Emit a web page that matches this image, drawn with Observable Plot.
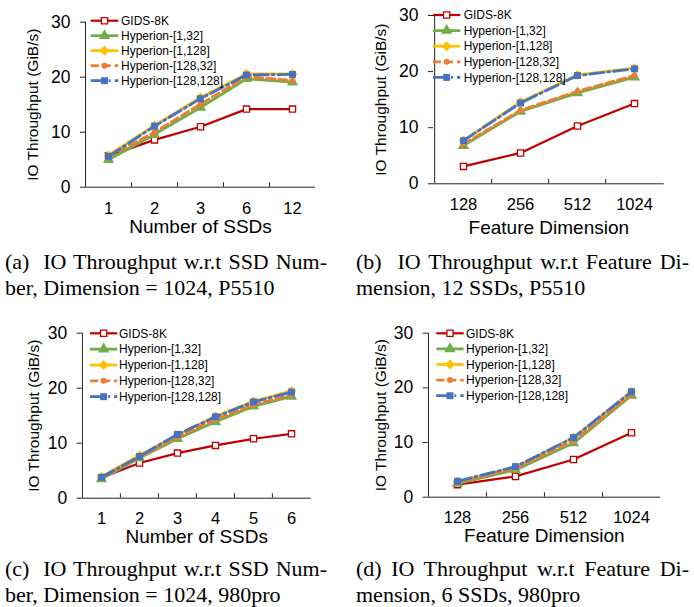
<!DOCTYPE html>
<html><head><meta charset="utf-8">
<script src="https://cdn.jsdelivr.net/npm/d3@7"></script>
<script src="https://cdn.jsdelivr.net/npm/@observablehq/plot@0.6"></script>
<style>
body{margin:0;background:#fff;}
#root{position:relative;width:694px;height:607px;overflow:hidden;background:#fff;}
.panel{position:absolute;}
.cap{position:absolute;font-family:"Liberation Serif","Times New Roman",serif;font-size:22px;line-height:25.5px;color:#000;white-space:nowrap;}
.cap .l1{text-align:justify;text-align-last:justify;}
</style></head>
<body><div id="root"></div>
<script>
// ---------- data ----------
const seriesNames = ["GIDS-8K","Hyperion-[1,32]","Hyperion-[1,128]","Hyperion-[128,32]","Hyperion-[128,128]"];
const ssdCountsP5510 = ["1","2","3","6","12"];
const featureDims = ["128","256","512","1024"];
const ssdCounts980 = ["1","2","3","4","5","6"];
const yTicks = [0,10,20,30];
const yTitle = "IO Throughput (GiB/s)";
const xTitleSSD = "Number of SSDs";
const xTitleDim = "Feature Dimension";

// (a) SSD number, dim 1024, P5510
const a_gids    = [5.7, 8.6, 11.0, 14.2, 14.2];
const a_h1_32   = [5.0, 9.6, 14.5, 19.7, 19.1];
const a_h1_128  = [5.8, 11.2, 16.3, 20.6, 20.6];
const a_h128_32 = [5.5, 10.0, 15.1, 20.1, 19.4];
const a_h128_128= [5.6, 11.1, 16.1, 20.4, 20.5];
// (b) feature dim, 12 SSDs, P5510
const b_gids    = [3.1, 5.5, 10.3, 14.3];
const b_h1_32   = [6.8, 12.9, 16.2, 19.0];
const b_h1_128  = [7.7, 14.6, 19.4, 20.6];
const b_h128_32 = [7.1, 13.1, 16.5, 19.3];
const b_h128_128= [7.7, 14.4, 19.3, 20.5];
// (c) SSD number, dim 1024, 980pro
const c_gids    = [3.7, 6.4, 8.2, 9.6, 10.8, 11.7];
const c_h1_32   = [3.5, 7.3, 10.8, 13.9, 16.7, 18.5];
const c_h1_128  = [3.9, 7.8, 11.5, 14.9, 17.6, 19.5];
const c_h128_32 = [3.7, 7.4, 11.1, 14.3, 17.0, 18.8];
const c_h128_128= [3.8, 7.6, 11.6, 14.8, 17.5, 19.3];
// (d) feature dim, 6 SSDs, 980pro
const d_gids    = [2.3, 3.8, 6.9, 11.8];
const d_h1_32   = [2.5, 5.0, 9.9, 18.6];
const d_h1_128  = [2.9, 5.5, 10.9, 19.3];
const d_h128_32 = [2.7, 5.3, 10.3, 18.8];
const d_h128_128= [2.9, 5.6, 10.9, 19.3];

const captions = [
  ["(a)\u00a0\u00a0IO Throughput w.r.t SSD Num-", "ber, Dimension = 1024, P5510"],
  ["(b)\u00a0\u00a0IO Throughput w.r.t Feature Di-", "mension, 12 SSDs, P5510"],
  ["(c)\u00a0\u00a0IO Throughput w.r.t SSD Num-", "ber, Dimension = 1024, 980pro"],
  ["(d) IO Throughput w.r.t Feature Di-", "mension, 6 SSDs, 980pro"]
];

// ---------- styles ----------
const styles = [
  {color:"#C00000", width:2.2, dash:null,       symbol:"square",   d3sym:d3.symbolSquare,   r:3.5, fill:"#fff",    stroke:"#C00000", sw:1.3},
  {color:"#70AD47", width:2.8, dash:null,       symbol:"triangle", d3sym:d3.symbolTriangle, r:4.2, fill:"#70AD47", stroke:"none",    sw:0},
  {color:"#FFC000", width:2.8, dash:null,       symbol:"diamond2", d3sym:d3.symbolDiamond2, r:4.5, fill:"#FFC000", stroke:"none",    sw:0},
  {color:"#ED7D31", width:2.8, dash:"8,4",      symbol:"circle",   d3sym:d3.symbolCircle,   r:3.0, fill:"#ED7D31", stroke:"none",    sw:0},
  {color:"#4472C4", width:2.8, dash:"14,4,2,4", symbol:"square",   d3sym:d3.symbolSquare,   r:3.9, fill:"#4472C4", stroke:"none",    sw:0}
];
const axisColor = "#222";
const sansFont = "'Liberation Sans', Arial, Helvetica, sans-serif";

const panels = [
  {left:0,   top:0,   w:347, h:240, ml:85,   mr:32,   mt:21.7, mb:53.3, cats:ssdCountsP5510, vals:[a_gids,a_h1_32,a_h1_128,a_h128_32,a_h128_128], xTitle:xTitleSSD, tickPad:15,   xTitleDy:39.5, yTitleDx:-52,
   leg:{x0:90.7, len:27.6, tx:121, y0:20.7, dy:15}},
  {left:347, top:0,   w:347, h:240, ml:86,   mr:30.3, mt:15,   mb:56.7, cats:featureDims,   vals:[b_gids,b_h1_32,b_h1_128,b_h128_32,b_h128_128], xTitle:xTitleDim, tickPad:14.3, xTitleDy:44,   yTitleDx:-52.7,
   leg:{x0:86, len:27.3, tx:116.7, y0:15, dy:15.6}},
  {left:0,   top:310, w:347, h:240, ml:81.7, mr:36.3, mt:22.7, mb:52.3, cats:ssdCounts980,  vals:[c_gids,c_h1_32,c_h1_128,c_h128_32,c_h128_128], xTitle:xTitleSSD, tickPad:14,   xTitleDy:38.5, yTitleDx:-48.4,
   leg:{x0:90, len:27.3, tx:119, y0:23.3, dy:15.85}},
  {left:347, top:310, w:347, h:240, ml:80.7, mr:34,   mt:22.7, mb:53.3, cats:featureDims,   vals:[d_gids,d_h1_32,d_h1_128,d_h128_32,d_h128_128], xTitle:xTitleDim, tickPad:14,   xTitleDy:38.5, yTitleDx:-47.4,
   leg:{x0:89.3, len:27.4, tx:119, y0:23.3, dy:15.6}}
];
const capPos = [
  {left:5,   top:249, w:322},
  {left:356, top:249, w:333},
  {left:5,   top:556, w:322},
  {left:356, top:556, w:333}
];

const root = document.getElementById("root");

panels.forEach((p, pi) => {
  const rows = [];
  seriesNames.forEach((s, i) => p.cats.forEach((c, j) => rows.push({series: s, si: i, cat: c, v: p.vals[i][j]})));
  const step = (p.w - p.ml - p.mr) / p.cats.length;
  const marks = [
    Plot.ruleY([0], {stroke: axisColor, strokeWidth: 1}),
    Plot.ruleX([p.cats[0]], {x: d => d, dx: -step/2, y1: 0, y2: 30, stroke: axisColor, strokeWidth: 1}),
    Plot.ruleX(p.cats.slice(1), {x: d => d, dx: -step/2, y1: 0, y2: 0.8, stroke: axisColor, strokeWidth: 1}),
    Plot.axisY({ticks: yTicks, tickSize: 5, tickPadding: 10, fontSize: 17.5, stroke: axisColor, tickFormat: d => String(d), label: null}),
    Plot.axisX({tickSize: 0, tickPadding: p.tickPad, fontSize: 16.5, label: null}),
  ];
  seriesNames.forEach((s, i) => {
    const st = styles[i];
    const sub = rows.filter(r => r.si === i);
    marks.push(Plot.line(sub, {x: "cat", y: "v", stroke: st.color, strokeWidth: st.width, strokeDasharray: st.dash || undefined, strokeLinejoin: "round"}));
    marks.push(Plot.dot(sub, {x: "cat", y: "v", symbol: st.symbol, r: st.r, fill: st.fill, stroke: st.stroke, strokeWidth: st.sw}));
  });
  marks.push(Plot.text([yTitle], {frameAnchor: "left", dx: p.yTitleDx, rotate: -90, fontSize: 15.5, textAnchor: "middle", lineAnchor: "middle", fill: "#000"}));
  marks.push(Plot.text([p.xTitle], {frameAnchor: "bottom", dy: p.xTitleDy, fontSize: 19, textAnchor: "middle", lineAnchor: "middle", fill: "#000"}));

  const svg = Plot.plot({
    width: p.w, height: p.h,
    marginLeft: p.ml, marginRight: p.mr, marginTop: p.mt, marginBottom: p.mb,
    x: {type: "point", domain: p.cats, padding: 0.5, label: null},
    y: {domain: [0, 30], label: null},
    style: {fontFamily: sansFont, color: "#000", background: "transparent"},
    marks
  });

  // legend
  const g = d3.select(svg).append("g");
  seriesNames.forEach((s, i) => {
    const st = styles[i];
    const y = p.leg.y0 + i * p.leg.dy;
    const ln = g.append("line").attr("x1", p.leg.x0).attr("x2", p.leg.x0 + p.leg.len).attr("y1", y).attr("y2", y)
      .attr("stroke", st.color).attr("stroke-width", st.width);
    if (st.dash) ln.attr("stroke-dasharray", st.dash);
    g.append("path").attr("d", d3.symbol(st.d3sym, Math.PI * st.r * st.r)())
      .attr("transform", `translate(${p.leg.x0 + p.leg.len/2},${y})`)
      .attr("fill", st.fill).attr("stroke", st.stroke).attr("stroke-width", st.sw);
    g.append("text").attr("x", p.leg.tx).attr("y", y).attr("dy", "0.35em").attr("fill", "#000")
      .style("font-size", "12px").style("font-family", sansFont).style("text-anchor", "start").text(s);
  });

  const div = document.createElement("div");
  div.className = "panel";
  div.style.left = p.left + "px";
  div.style.top = p.top + "px";
  div.appendChild(svg);
  root.appendChild(div);

  const cp = capPos[pi];
  const cap = document.createElement("div");
  cap.className = "cap";
  cap.style.left = cp.left + "px";
  cap.style.top = cp.top + "px";
  const l1 = document.createElement("div"); l1.className = "l1"; l1.style.width = cp.w + "px"; l1.textContent = captions[pi][0];
  const l2 = document.createElement("div"); l2.textContent = captions[pi][1];
  cap.appendChild(l1); cap.appendChild(l2);
  root.appendChild(cap);
});
</script>
</body></html>
